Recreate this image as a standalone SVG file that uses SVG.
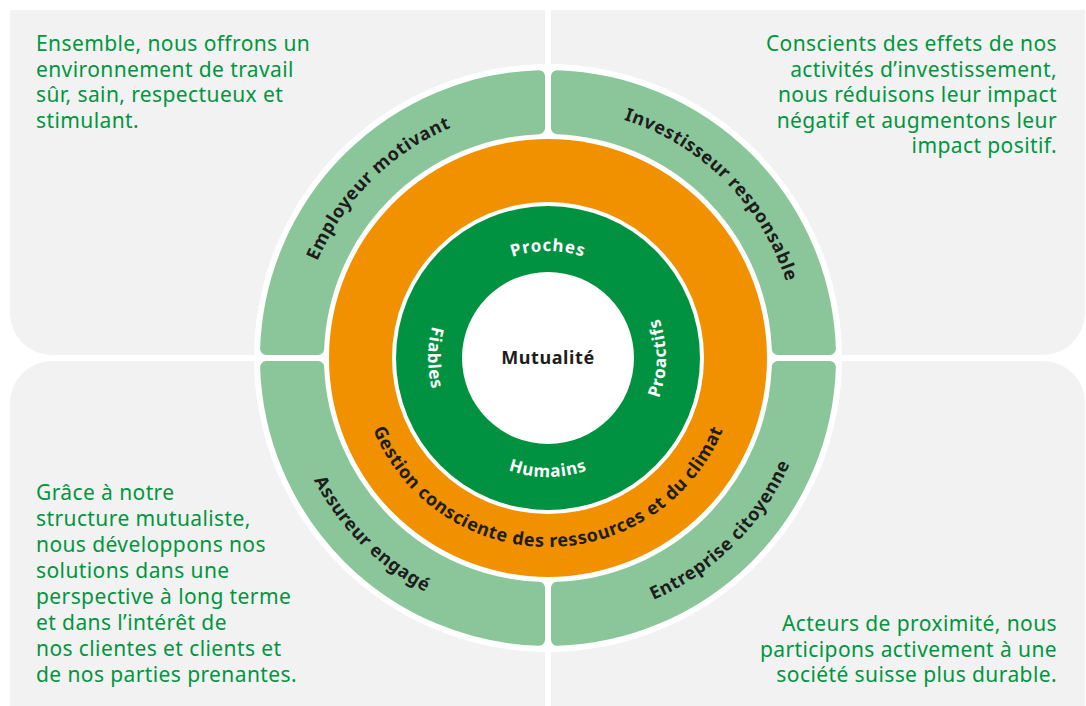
<svg xmlns="http://www.w3.org/2000/svg" width="1086" height="706" viewBox="0 0 1086 706">
  <style>
    .panel { fill: #f2f2f2; }
    .seg { fill: #8bc69b; stroke: #8bc69b; stroke-width: 12; stroke-linejoin: round; }
    .body { font-family: "Noto Sans", "Liberation Sans", sans-serif; font-size: 21px; letter-spacing: 0.4px; fill: #00963f; }
    .right { text-anchor: end; }
    .lbl { font-family: "Noto Sans", "Liberation Sans", sans-serif; font-weight: 700; font-size: 18px; letter-spacing: 0.6px; fill: #1d1d1b; }
    .inner { font-family: "Noto Sans", "Liberation Sans", sans-serif; font-weight: 700; font-size: 17px; letter-spacing: 0.8px; fill: #ffffff; }
  </style>
  <defs>
    <!-- baseline arcs for curved labels, centred on (548,358) -->
    <path id="arcEmployeur" d="M371.22,534.78 A250,250 0 0 1 724.78,181.22"/>
    <path id="arcInvestisseur" d="M371.22,181.22 A250,250 0 0 1 724.78,534.78"/>
    <path id="arcAssureur" d="M361.32,171.32 A264,264 0 0 0 734.68,544.68"/>
    <path id="arcEntreprise" d="M361.32,544.68 A264,264 0 0 0 734.68,171.32"/>
    <path id="arcGestion" d="M359,358 A189,189 0 0 0 737,358"/>
    <path id="arcProches" d="M441,358 A107,107 0 0 1 655,358"/>
    <path id="arcHumains" d="M429,358 A119,119 0 0 0 667,358"/>
    <path id="arcFiables" d="M548,238 A120,120 0 0 0 548,478"/>
    <path id="arcProactifs" d="M548,476 A118,118 0 0 0 548,240"/>
  </defs>

  <!-- background quadrants -->
  <g id="panels">
    <path class="panel" d="M10,10 H545 V355 H52 A42,42 0 0 1 10,313 Z"/>
    <path class="panel" d="M551,10 H1085 V313 A42,42 0 0 1 1043,355 H551 Z"/>
    <path class="panel" d="M52,361 H545 V706 H10 V403 A42,42 0 0 1 52,361 Z"/>
    <path class="panel" d="M551,361 H1043 A42,42 0 0 1 1085,403 V706 H551 Z"/>
  </g>

  <!-- quadrant texts -->
  <g id="text-employeur">
    <text class="body" x="36" y="51">Ensemble, nous offrons un</text>
    <text class="body" x="36" y="77">environnement de travail</text>
    <text class="body" x="36" y="102">sûr, sain, respectueux et</text>
    <text class="body" x="36" y="128">stimulant.</text>
  </g>
  <g id="text-investisseur">
    <text class="body right" x="1057" y="51">Conscients des effets de nos</text>
    <text class="body right" x="1057" y="77">activités d’investissement,</text>
    <text class="body right" x="1057" y="102">nous réduisons leur impact</text>
    <text class="body right" x="1057" y="128">négatif et augmentons leur</text>
    <text class="body right" x="1057" y="153">impact positif.</text>
  </g>
  <g id="text-assureur">
    <text class="body" x="36" y="500">Grâce à notre</text>
    <text class="body" x="36" y="526">structure mutualiste,</text>
    <text class="body" x="36" y="552">nous développons nos</text>
    <text class="body" x="36" y="578">solutions dans une</text>
    <text class="body" x="36" y="604">perspective à long terme</text>
    <text class="body" x="36" y="630">et dans l’intérêt de</text>
    <text class="body" x="36" y="656">nos clientes et clients et</text>
    <text class="body" x="36" y="682">de nos parties prenantes.</text>
  </g>
  <g id="text-entreprise">
    <text class="body right" x="1057" y="631">Acteurs de proximité, nous</text>
    <text class="body right" x="1057" y="657">participons activement à une</text>
    <text class="body right" x="1057" y="682">société suisse plus durable.</text>
  </g>

  <!-- white halo behind the rings -->
  <circle cx="548" cy="358" r="294" fill="#ffffff"/>

  <!-- outer ring: four commitments -->
  <g id="ring-employeur">
    <path class="seg" d="M266.14,349 A282,282 0 0 1 539,76.14 L539,128.18 A230,230 0 0 0 318.18,349 Z"/>
    <text class="lbl"><textPath href="#arcEmployeur" startOffset="50%" text-anchor="middle">Employeur motivant</textPath></text>
  </g>
  <g id="ring-investisseur">
    <path class="seg" d="M557,76.14 A282,282 0 0 1 829.86,349 L777.82,349 A230,230 0 0 0 557,128.18 Z"/>
    <text class="lbl"><textPath href="#arcInvestisseur" startOffset="50%" text-anchor="middle">Investisseur responsable</textPath></text>
  </g>
  <g id="ring-entreprise">
    <path class="seg" d="M829.86,367 A282,282 0 0 1 557,639.86 L557,587.82 A230,230 0 0 0 777.82,367 Z"/>
    <text class="lbl"><textPath href="#arcEntreprise" startOffset="50%" text-anchor="middle">Entreprise citoyenne</textPath></text>
  </g>
  <g id="ring-assureur">
    <path class="seg" d="M539,639.86 A282,282 0 0 1 266.14,367 L318.18,367 A230,230 0 0 0 539,587.82 Z"/>
    <text class="lbl"><textPath href="#arcAssureur" startOffset="50%" text-anchor="middle">Assureur engagé</textPath></text>
  </g>

  <!-- middle ring -->
  <g id="ring-gestion">
    <circle cx="548" cy="358" r="219" fill="#f29100"/>
    <circle cx="548" cy="358" r="156" fill="#ffffff"/>
    <text class="lbl"><textPath href="#arcGestion" startOffset="50%" text-anchor="middle">Gestion consciente des ressources et du climat</textPath></text>
  </g>

  <!-- inner ring: values -->
  <g id="ring-valeurs">
    <circle cx="548" cy="358" r="152" fill="#009240"/>
    <text class="inner"><textPath href="#arcProches" startOffset="50%" text-anchor="middle">Proches</textPath></text>
    <text class="inner"><textPath href="#arcHumains" startOffset="50%" text-anchor="middle">Humains</textPath></text>
    <text class="inner"><textPath href="#arcFiables" startOffset="50%" text-anchor="middle">Fiables</textPath></text>
    <text class="inner"><textPath href="#arcProactifs" startOffset="50%" text-anchor="middle">Proactifs</textPath></text>
  </g>

  <!-- core -->
  <g id="core">
    <circle cx="548" cy="358" r="86" fill="#ffffff"/>
    <text class="lbl" x="548" y="364" text-anchor="middle">Mutualité</text>
  </g>
</svg>
